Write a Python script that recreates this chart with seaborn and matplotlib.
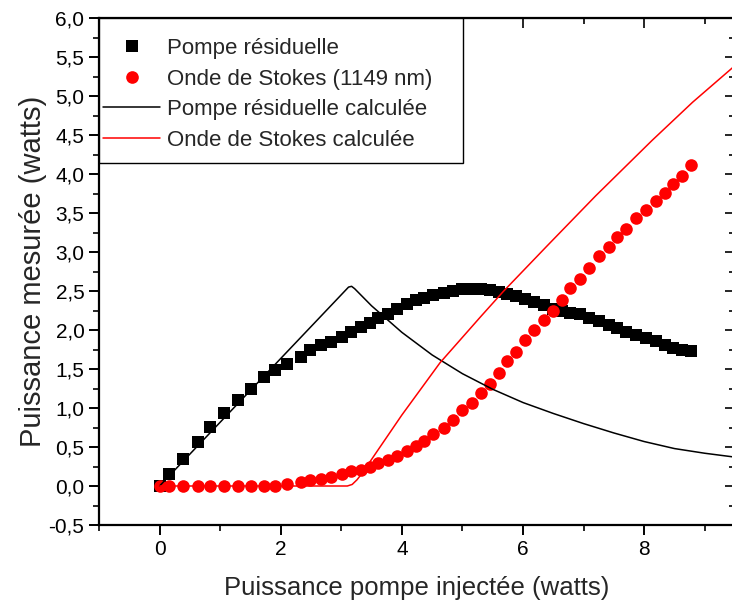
import matplotlib
matplotlib.use("Agg")
import matplotlib.pyplot as plt
import seaborn as sns
import pandas as pd
from matplotlib.ticker import MultipleLocator, FuncFormatter, NullFormatter, FixedLocator
from matplotlib.lines import Line2D
from matplotlib.patches import Rectangle

# ---- data ----
x_pump = [0.00, 0.16, 0.38, 0.63, 0.84, 1.06, 1.30, 1.51, 1.72, 1.90, 2.10, 2.33, 2.49, 2.66,
          2.83, 3.01, 3.16, 3.32, 3.47, 3.61, 3.77, 3.92, 4.09, 4.24, 4.37, 4.52, 4.69, 4.85,
          5.00, 5.15, 5.30, 5.45, 5.60, 5.74, 5.88, 6.03, 6.18, 6.35, 6.49, 6.65, 6.78, 6.94,
          7.09, 7.26, 7.42, 7.56, 7.70, 7.87, 8.03, 8.19, 8.35, 8.47, 8.62, 8.77]
pompe_residuelle = [0.00, 0.15, 0.35, 0.56, 0.76, 0.94, 1.10, 1.25, 1.40, 1.49, 1.57, 1.66, 1.74, 1.81,
                    1.85, 1.91, 1.97, 2.04, 2.09, 2.15, 2.21, 2.27, 2.33, 2.38, 2.41, 2.45, 2.48, 2.50,
                    2.52, 2.53, 2.53, 2.51, 2.49, 2.46, 2.43, 2.40, 2.36, 2.32, 2.27, 2.24, 2.22, 2.20,
                    2.16, 2.11, 2.07, 2.03, 1.98, 1.94, 1.90, 1.86, 1.81, 1.77, 1.75, 1.73]
onde_stokes = [0.00, 0.00, 0.00, 0.00, 0.00, 0.00, 0.00, 0.00, 0.00, 0.00, 0.03, 0.05, 0.075, 0.09,
               0.12, 0.15, 0.19, 0.21, 0.25, 0.30, 0.33, 0.39, 0.45, 0.51, 0.58, 0.67, 0.75, 0.85,
               0.97, 1.07, 1.19, 1.31, 1.45, 1.60, 1.72, 1.87, 2.00, 2.13, 2.25, 2.38, 2.54, 2.66,
               2.79, 2.95, 3.07, 3.19, 3.30, 3.44, 3.54, 3.65, 3.76, 3.87, 3.97, 4.11]

x_calc_pompe = [0.0, 3.12, 3.17, 3.22, 3.50, 4.00, 4.50, 5.00, 5.50, 6.00, 6.50, 7.00,
                7.50, 8.00, 8.50, 9.00, 9.50]
pompe_calc = [0.0, 2.55, 2.56, 2.53, 2.31, 1.97, 1.68, 1.44, 1.24, 1.07, 0.93, 0.80,
              0.68, 0.57, 0.48, 0.42, 0.37]

x_calc_stokes = [0.0, 3.10, 3.18, 3.26, 3.35, 4.00, 4.63, 5.30, 5.67, 6.40, 7.20, 8.13, 8.80, 9.50]
stokes_calc = [0.0, 0.0, 0.02, 0.08, 0.17, 0.91, 1.58, 2.17, 2.49, 3.08, 3.72, 4.43, 4.92, 5.39]

legend_labels = ["Pompe résiduelle", "Onde de Stokes (1149 nm)",
                 "Pompe résiduelle calculée", "Onde de Stokes calculée"]
x_label = "Puissance pompe injectée (watts)"
y_label = "Puissance mesurée (watts)"
x_major = [0, 2, 4, 6, 8]

# ---- style ----
sns.set_style("ticks")
plt.rcParams["font.family"] = ["Liberation Sans", "DejaVu Sans"]

W, H = 732, 608
AX_L, AX_R, AX_T, AX_B = 99, 735, 18, 525
fig = plt.figure(figsize=(W / 100, H / 100), dpi=100)
ax = fig.add_axes([AX_L / W, (H - AX_B) / H, (AX_R - AX_L) / W, (AX_B - AX_T) / H])

meas = pd.DataFrame({"x": x_pump, "pompe": pompe_residuelle, "stokes": onde_stokes})

sns.scatterplot(data=meas, x="x", y="pompe", marker="s", s=72, color="black",
                linewidth=0, ax=ax, legend=False, zorder=2)
sns.scatterplot(data=meas, x="x", y="stokes", marker="o", s=82, color="#ff0000",
                linewidth=0, ax=ax, legend=False, zorder=3)
sns.lineplot(x=x_calc_pompe, y=pompe_calc, color="black", linewidth=1.1, sort=False,
             estimator=None, ax=ax, legend=False, zorder=4)
sns.lineplot(x=x_calc_stokes, y=stokes_calc, color="#ff0000", linewidth=1.1, sort=False,
             estimator=None, ax=ax, legend=False, zorder=4)

ax.set_xlim(-1, 9.5)
ax.set_ylim(-0.5, 6.0)

ax.xaxis.set_major_locator(FixedLocator(x_major))
ax.xaxis.set_minor_locator(MultipleLocator(1))
ax.yaxis.set_major_locator(MultipleLocator(0.5))
ax.yaxis.set_minor_locator(MultipleLocator(0.25))
ax.yaxis.set_major_formatter(FuncFormatter(lambda v, p: f"{v:.1f}".replace(".", ",").replace("-0,0", "0,0")))
ax.xaxis.set_major_formatter(FuncFormatter(lambda v, p: f"{v:.0f}"))

for s in ax.spines.values():
    s.set_linewidth(1.6)
    s.set_color("black")

ax.tick_params(which="major", direction="out", length=7, width=1.4, labelsize=15, colors="black")
ax.tick_params(which="minor", direction="out", length=4, width=1.4)

secx = ax.secondary_xaxis("top")
secx.tick_params(which="major", direction="in", length=7, width=1.4, labeltop=False)
secx.tick_params(which="minor", direction="in", length=4, width=1.4)
secx.xaxis.set_major_locator(FixedLocator(x_major))
secx.xaxis.set_minor_locator(MultipleLocator(1))
secx.xaxis.set_major_formatter(NullFormatter())
secy = ax.secondary_yaxis("right")
secy.tick_params(which="major", direction="in", length=7, width=1.4, labelright=False)
secy.tick_params(which="minor", direction="in", length=4, width=1.4)
secy.yaxis.set_major_locator(MultipleLocator(0.5))
secy.yaxis.set_minor_locator(MultipleLocator(0.25))
secy.yaxis.set_major_formatter(NullFormatter())

ax.set_xlabel(x_label, fontsize=18.5, labelpad=12.5)
ax.set_ylabel(y_label, fontsize=21, labelpad=1)

# legend frame (box wider than its content, as in the reference)
ax_w, ax_h = AX_R - AX_L, AX_B - AX_T
frame = Rectangle((0, 1 - (163 - AX_T) / ax_h), (463 - AX_L) / ax_w, (163 - AX_T) / ax_h,
                  transform=ax.transAxes, facecolor="white", edgecolor="black",
                  linewidth=1.0, zorder=5, clip_on=False)
ax.add_patch(frame)

handles = [
    Line2D([], [], marker="s", color="black", linestyle="none", markersize=8.5, markeredgewidth=0),
    Line2D([], [], marker="o", color="#ff0000", linestyle="none", markersize=9.1, markeredgewidth=0),
    Line2D([], [], color="black", linewidth=1.1),
    Line2D([], [], color="#ff0000", linewidth=1.1),
]
leg = ax.legend(handles, legend_labels, loc="upper left",
                bbox_to_anchor=((103 - AX_L) / ax_w, 1 - (38 - AX_T) / ax_h),
                borderaxespad=0, borderpad=0, fontsize=16, frameon=False,
                handlelength=2.57, handletextpad=0.32, labelspacing=0.43)
leg.set_zorder(6)

fig.savefig("out.png", dpi=100)
